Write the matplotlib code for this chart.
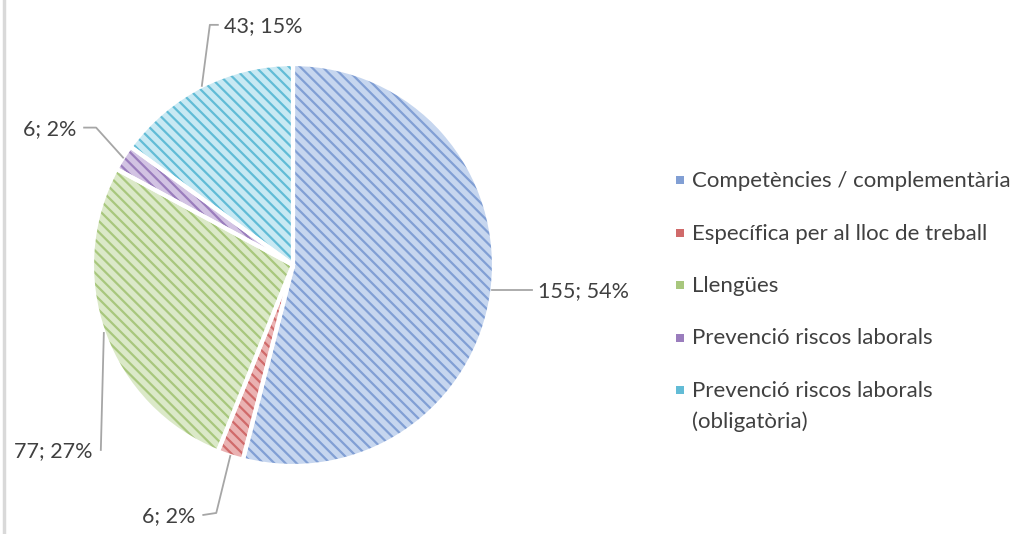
import numpy as np
import matplotlib.pyplot as plt
from matplotlib.patches import Rectangle, Wedge

plt.rcParams['font.family'] = ['Lato', 'DejaVu Sans']
plt.rcParams['hatch.linewidth'] = 1.6

# Data
categories = ["Competències / complementària",
              "Específica per al lloc de treball",
              "Llengües",
              "Prevenció riscos laborals",
              "Prevenció riscos laborals\n(obligatòria)"]
values = [155, 6, 77, 6, 43]
fill_colors = ["#c6d6ef", "#eab2b2", "#dbe9c8", "#d2c3e3", "#c8e9f3"]
hatch_colors = ["#819fd4", "#d06a6a", "#a8c77d", "#9a7dbd", "#62bcd6"]

W, H = 1014, 534
cx, cy, R = 293, H - 265, 201
txt_col = "#404040"

fig = plt.figure(figsize=(W / 100, H / 100), dpi=100)
ax = fig.add_axes([0, 0, 1, 1])

wedges, _ = ax.pie(values, center=(cx, cy), radius=R, startangle=90,
                   counterclock=False, colors=fill_colors)
for w, hc in zip(wedges, hatch_colors):
    w.set_hatch("\\\\\\")
    w.set_edgecolor(hc)
    w.set_linewidth(0)
# white separators on top
for w in wedges:
    ax.add_patch(Wedge((cx, cy), R, w.theta1, w.theta2, facecolor="none",
                       edgecolor="white", linewidth=3))

ax.set_aspect("equal")
ax.set_xlim(0, W)
ax.set_ylim(0, H)
ax.axis("off")

total = sum(values)
pcts = [round(v / total * 100) for v in values]
labels = [f"{v}; {p}%" for v, p in zip(values, pcts)]

# leader line routes (offsets from the wedge edge)
routes = [
    [(40, 0)],
    [(-14, -57), (-27, -59)],
    [(-3, -117)],
    [(-27, 30), (-39, 30)],
    [(8, 61), (16, 61)],
]
text_side = ["left", "right", "right", "right", "left"]
line_col = "#a6a6a6"
for w, lab, rt, side in zip(wedges, labels, routes, text_side):
    mid = np.deg2rad((w.theta1 + w.theta2) / 2)
    x0, y0 = cx + R * np.cos(mid), cy + R * np.sin(mid)
    pts = [(x0, y0)] + [(x0 + dx, y0 + dy) for dx, dy in rt]
    xs, ys = zip(*pts)
    ax.plot(xs, ys, color=line_col, lw=1.3)
    tx = xs[-1] + (6 if side == "left" else -8)
    ax.text(tx, ys[-1] - 7, lab, ha=side, va="baseline", fontsize=15.5,
            color=txt_col)

# legend
ly0 = H - 180
for i, (cat, hc) in enumerate(zip(categories, hatch_colors)):
    y = ly0 - i * 52.5
    extra = 31 * cat.count("\n")
    ax.add_patch(Rectangle((676, y - 4), 8, 8, facecolor=hc, edgecolor="none"))
    ax.text(692, y - 7 - extra, cat, ha="left", va="baseline", fontsize=16,
            color=txt_col, linespacing=1.6)

# left border
ax.plot([4, 4], [0, H], color="#d9d9d9", lw=2.5)

fig.savefig("out.png", dpi=100)
